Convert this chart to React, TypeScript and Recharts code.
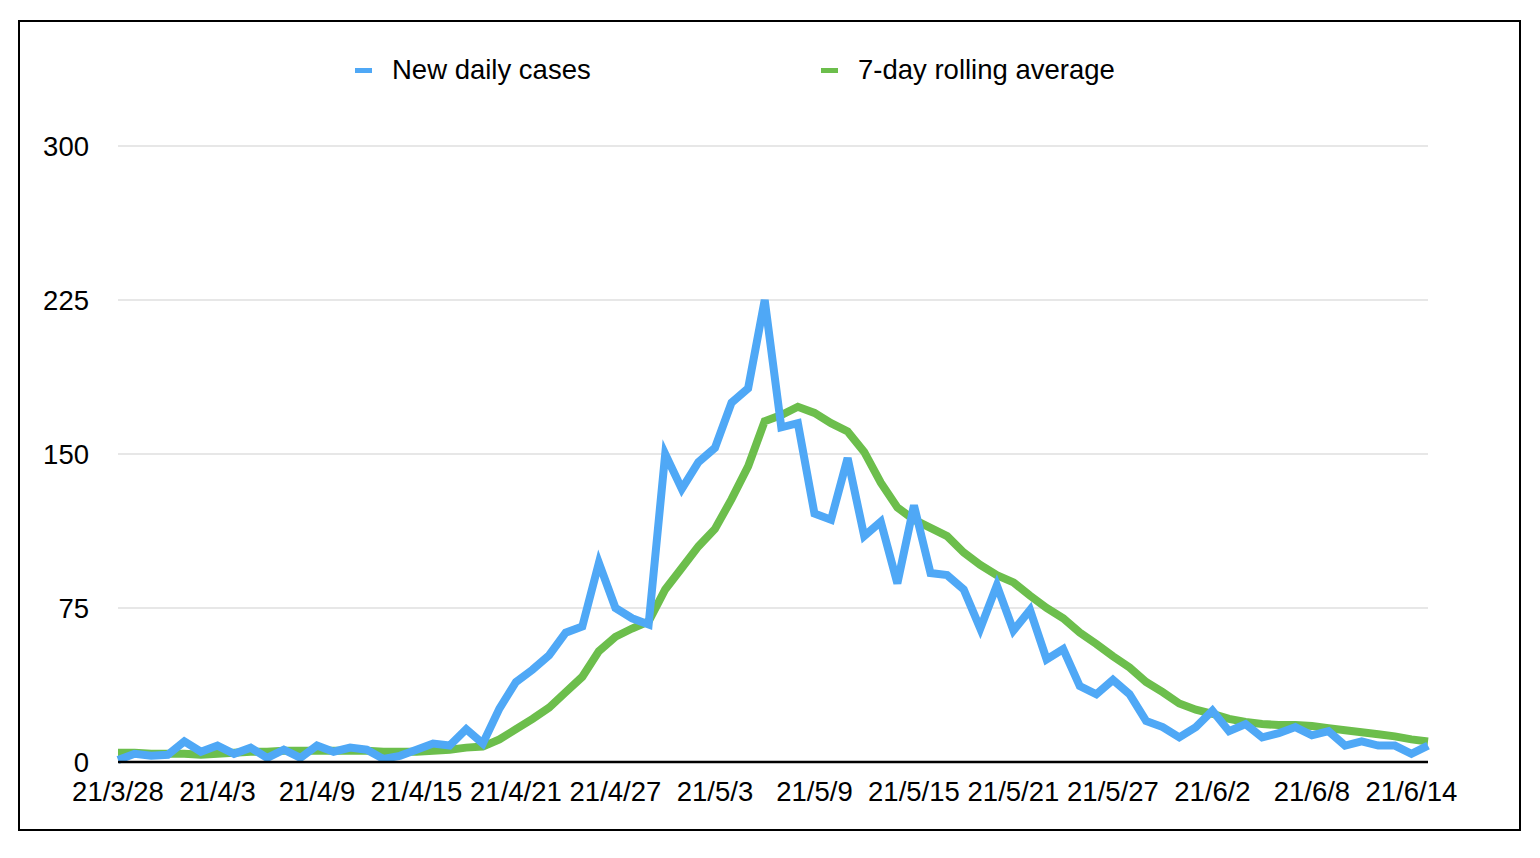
import React from 'react';
import { LineChart, Line, XAxis, YAxis, CartesianGrid, Legend } from 'recharts';

const dateLabels = [
  '21/3/28', '21/3/29', '21/3/30', '21/3/31',
  '21/4/1', '21/4/2', '21/4/3', '21/4/4', '21/4/5', '21/4/6', '21/4/7', '21/4/8', '21/4/9', '21/4/10',
  '21/4/11', '21/4/12', '21/4/13', '21/4/14', '21/4/15', '21/4/16', '21/4/17', '21/4/18', '21/4/19', '21/4/20',
  '21/4/21', '21/4/22', '21/4/23', '21/4/24', '21/4/25', '21/4/26', '21/4/27', '21/4/28', '21/4/29', '21/4/30',
  '21/5/1', '21/5/2', '21/5/3', '21/5/4', '21/5/5', '21/5/6', '21/5/7', '21/5/8', '21/5/9', '21/5/10',
  '21/5/11', '21/5/12', '21/5/13', '21/5/14', '21/5/15', '21/5/16', '21/5/17', '21/5/18', '21/5/19', '21/5/20',
  '21/5/21', '21/5/22', '21/5/23', '21/5/24', '21/5/25', '21/5/26', '21/5/27', '21/5/28', '21/5/29', '21/5/30',
  '21/5/31', '21/6/1', '21/6/2', '21/6/3', '21/6/4', '21/6/5', '21/6/6', '21/6/7', '21/6/8', '21/6/9',
  '21/6/10', '21/6/11', '21/6/12', '21/6/13', '21/6/14', '21/6/15',
];

const newDailyCases = [
  1, 4, 3, 3.5, 10, 5, 8, 4, 7, 2,
  6, 2, 8, 5, 7, 6, 1.5, 3, 6, 9,
  8, 16, 9, 26, 39, 45, 52, 63, 66, 97,
  75, 70, 67, 150, 133, 146, 153, 175, 182, 225,
  163, 165, 121, 118, 148, 110, 117, 87, 125, 92,
  91, 84, 65, 86, 64, 74, 50, 55, 37, 33,
  40, 33, 20, 17, 12, 17, 25, 15, 18.5, 12,
  14, 17, 13, 15, 8, 10, 8, 8, 4, 8,
];

const rollingAverage = [
  4.5, 4.5, 4, 4, 4, 3.5, 4, 4.5, 5, 5,
  5.5, 5.5, 5.5, 5.5, 5.5, 5.5, 5, 5, 5, 5.5,
  6, 7, 7.5, 11, 16, 21, 26.5, 34, 41.5, 54,
  61, 65, 68.5, 84, 94.5, 105, 113.5, 128, 144, 166,
  169, 173, 170, 165, 161, 151, 136, 124, 118, 114,
  110, 102, 96, 91, 87.5, 81, 75, 70, 63, 57.5,
  51.5, 46, 39, 34, 28.5, 25.5, 23.5, 21, 19.5, 18.5,
  18, 18, 17.5, 16.5, 15.5, 14.5, 13.5, 12.5, 11, 10,
];

const yTicks = [0, 75, 150, 225, 300];

const seriesNames = ['New daily cases', '7-day rolling average'];
const BLUE = '#4FA8F6';
const GREEN = '#6CBE4C';

const data = dateLabels.map((d, i) => ({
  date: d,
  cases: newDailyCases[i],
  avg: rollingAverage[i],
}));

const FONT = '"Liberation Sans", Arial, Helvetica, sans-serif';

const LegendContent = () => (
  <div style={{ display: 'flex', alignItems: 'center', fontFamily: FONT, fontSize: 27.5, color: '#000' }}>
    <div style={{ width: 466, display: 'flex', alignItems: 'center' }}>
      <span style={{ display: 'inline-block', width: 17, height: 5, background: BLUE, marginRight: 20 }} />
      <span>{seriesNames[0]}</span>
    </div>
    <div style={{ display: 'flex', alignItems: 'center' }}>
      <span style={{ display: 'inline-block', width: 17, height: 5, background: GREEN, marginRight: 20 }} />
      <span>{seriesNames[1]}</span>
    </div>
  </div>
);

export default function App() {
  return (
    <div style={{ position: 'absolute', left: 0, top: 0, width: 1540, height: 858 }}>
      <div
        style={{
          position: 'absolute',
          left: 18,
          top: 20,
          width: 1503,
          height: 811,
          border: '2px solid #000',
          boxSizing: 'border-box',
        }}
      />
      <div style={{ position: 'absolute', left: 0, top: 0 }}>
        <LineChart
          width={1540}
          height={858}
          data={data}
          margin={{ top: 146, right: 112, bottom: 0, left: 58 }}
        >
          <CartesianGrid horizontal={true} vertical={false} stroke="#d0d0d0" strokeWidth={1.2} />
          <XAxis
            dataKey="date"
            interval={5}
            height={96}
            tickLine={false}
            tickSize={0}
            tickMargin={19}
            axisLine={{ stroke: '#000', strokeWidth: 2.5 }}
            tick={{ fill: '#000', fontSize: 27.5, fontFamily: FONT }}
          />
          <YAxis
            domain={[0, 300]}
            ticks={yTicks}
            width={60}
            axisLine={false}
            tickLine={false}
            tickSize={0}
            tickMargin={29}
            tick={{ fill: '#000', fontSize: 27.5, fontFamily: FONT }}
          />
          <Legend
            layout="horizontal"
            verticalAlign="middle"
            align="center"
            content={<LegendContent />}
            wrapperStyle={{ position: 'absolute', top: 54, left: 355, width: 900 }}
          />
          <Line
            type="linear"
            dataKey="avg"
            name={seriesNames[1]}
            stroke={GREEN}
            strokeWidth={8}
            dot={false}
            activeDot={false}
            isAnimationActive={false}
          />
          <Line
            type="linear"
            dataKey="cases"
            name={seriesNames[0]}
            stroke={BLUE}
            strokeWidth={8}
            dot={false}
            activeDot={false}
            isAnimationActive={false}
          />
        </LineChart>
      </div>
    </div>
  );
}
